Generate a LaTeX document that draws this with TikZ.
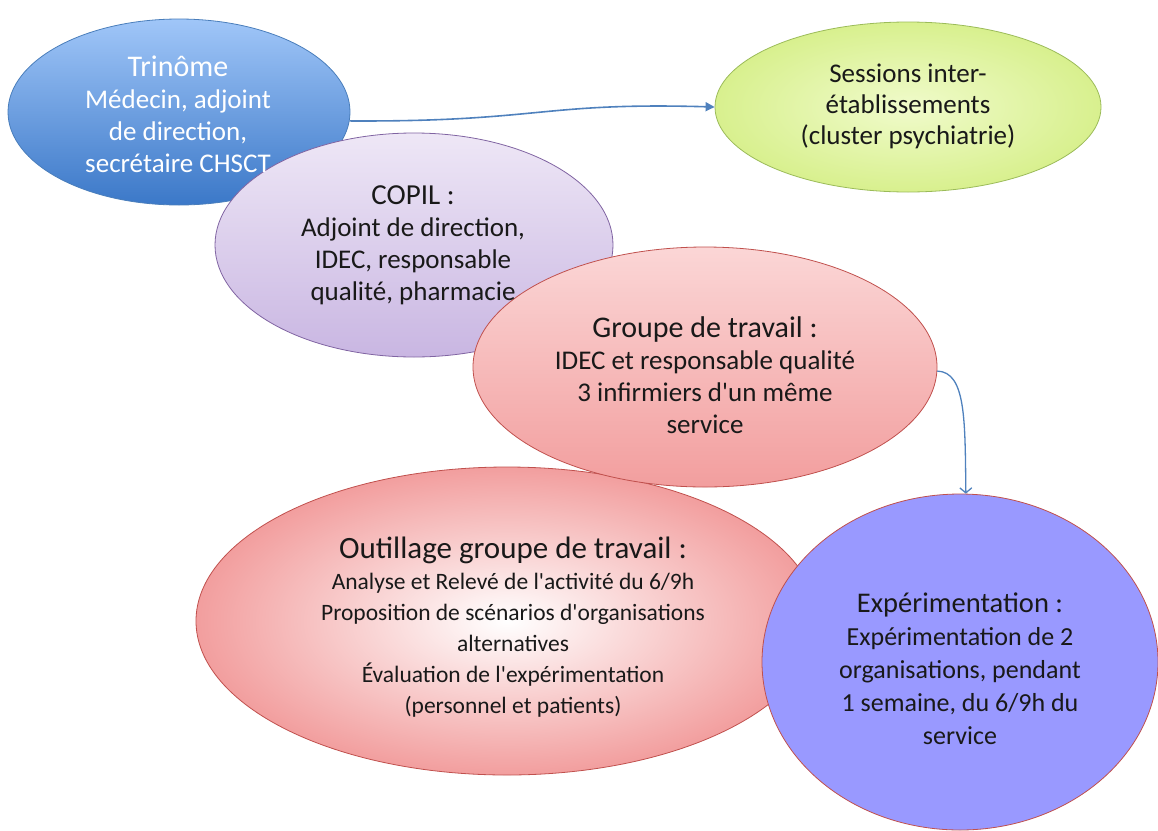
\documentclass[tikz,border=0pt]{standalone}
\usepackage{fontspec}
\setmainfont{Carlito}
\usetikzlibrary{shapes.geometric,arrows.meta}

\definecolor{bleuclair}{HTML}{A0C6F8}
\definecolor{bleufonce}{HTML}{3B78C8}
\definecolor{bordbleu}{HTML}{4A7EBB}
\definecolor{vertclair}{HTML}{F0FBCB}
\definecolor{vertfonce}{HTML}{D8F08E}
\definecolor{bordvert}{HTML}{9BBB59}
\definecolor{violetclair}{HTML}{EEE7F6}
\definecolor{violetfonce}{HTML}{C9B6E2}
\definecolor{bordviolet}{HTML}{8064A2}
\definecolor{roseclair}{HTML}{FBD6D6}
\definecolor{rosefonce}{HTML}{F29E9E}
\definecolor{bordrouge}{HTML}{C0504D}
\definecolor{mauve}{HTML}{9999FF}
\definecolor{lienbleu}{HTML}{4F81BD}

\newcommand{\apos}{\textquotesingle}

\begin{document}
\begin{tikzpicture}[x=1pt, y=-1pt,
    bulle/.style={ellipse, inner sep=0pt, line width=0.8pt},
    texte/.style={align=center, inner sep=0pt, text=black!90},
    lien/.style={draw=lienbleu, line width=1.6pt}]

\useasboundingbox (0,0) rectangle (1158,830);

% Bulles
\node[bulle, draw=bordbleu, top color=bleuclair, bottom color=bleufonce,
      minimum width=342, minimum height=186] (trinome) at (179,112) {};
\node[bulle, draw=bordvert, inner color=vertclair, outer color=vertfonce,
      minimum width=386, minimum height=170] (sessions) at (908,107) {};
\node[bulle, draw=bordviolet, top color=violetclair, bottom color=violetfonce,
      minimum width=398, minimum height=224] (copil) at (414,245) {};
\node[bulle, draw=bordrouge, inner color=white, outer color=rosefonce,
      minimum width=622, minimum height=308] (outillage) at (507,621) {};
\node[bulle, draw=bordrouge, top color=roseclair, bottom color=rosefonce,
      minimum width=464, minimum height=240] (groupe) at (705,367) {};
\node[bulle, draw=bordrouge, fill=mauve,
      minimum width=396, minimum height=336] (experim) at (960,662) {};

% Textes
\node[texte, text=white, font=\fontsize{27}{32}\selectfont] (trinome-t) at (178,114)
    {{\fontsize{30}{32}\selectfont Trinôme}\\Médecin, adjoint\\de direction,\\secrétaire CHSCT};
\node[texte, font=\fontsize{27}{31}\selectfont] (sessions-t) at (908,106)
    {Sessions inter-\\établissements\\(cluster psychiatrie)};
\node[texte, font=\fontsize{27}{32}\selectfont] (copil-t) at (413,245)
    {{\fontsize{29}{32}\selectfont COPIL :}\\Adjoint de direction,\\IDEC, responsable\\qualité, pharmacie};
\node[texte, font=\fontsize{27}{32}\selectfont] (groupe-t) at (705,375)
    {{\fontsize{30}{32}\selectfont Groupe de travail :}\\IDEC et responsable qualité\\3 infirmiers d\apos un même\\service};
\node[texte, font=\fontsize{23.5}{31}\selectfont] (outillage-t) at (513,627)
    {{\fontsize{31}{31}\selectfont Outillage groupe de travail :}\\Analyse et Relevé de l\apos activité du 6/9h\\Proposition de scénarios d\apos organisations\\alternatives\\Évaluation de l\apos expérimentation\\(personnel et patients)};
\node[texte, font=\fontsize{26}{33}\selectfont] (experim-t) at (960,669)
    {{\fontsize{28.5}{33}\selectfont Expérimentation :}\\Expérimentation de 2\\organisations, pendant\\1 semaine, du 6/9h du\\service};

% Liens
\draw[lien, -{Triangle[length=9pt, width=9pt]}] (trinome.-3.4)
    .. controls (540,122) and (540,102) .. (sessions.west);
\draw[lien, line width=1.3pt, -{Straight Barb[length=5pt, width=12pt]}] (groupe.-1)
    .. controls (966,372) and (965,420) .. (experim.88);

\end{tikzpicture}
\end{document}
